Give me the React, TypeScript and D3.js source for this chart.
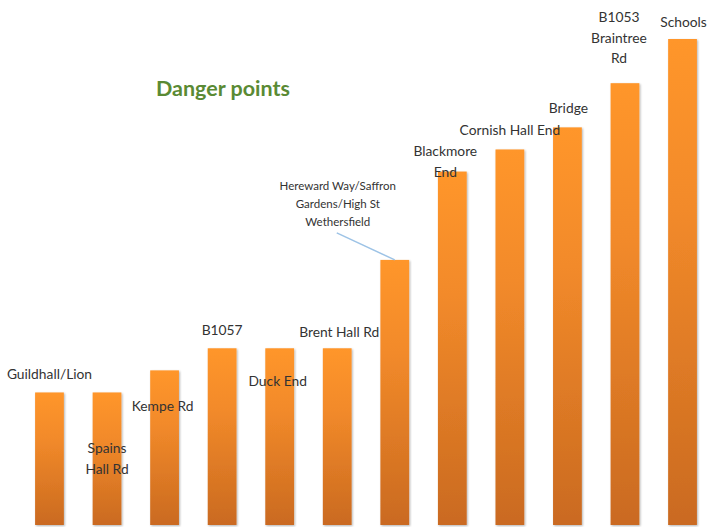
import React from "react";
import * as d3 from "d3";

const categories = [
  "Guildhall/Lion",
  "Spains Hall Rd",
  "Kempe Rd",
  "B1057",
  "Duck End",
  "Brent Hall Rd",
  "Hereward Way/Saffron Gardens/High St Wethersfield",
  "Blackmore End",
  "Cornish Hall End",
  "Bridge",
  "B1053 Braintree Rd",
  "Schools",
];
const values = [3, 3, 3.5, 4, 4, 4, 6, 8, 8.5, 9, 10, 11];
const labelLines = [
  ["Guildhall/Lion"],
  ["Spains", "Hall Rd"],
  ["Kempe Rd"],
  ["B1057"],
  ["Duck End"],
  ["Brent Hall Rd"],
  ["Hereward Way/Saffron", "Gardens/High St", "Wethersfield"],
  ["Blackmore", "End"],
  ["Cornish Hall End"],
  ["Bridge"],
  ["B1053", "Braintree", "Rd"],
  ["Schools"],
];
const labelOffsets: [number, number][] = [
  [0, -18],
  [0, 56],
  [-2, 36],
  [0, -18],
  [-2, 33],
  [2, -16],
  [-57, -74],
  [-7, -20],
  [0, -19],
  [1, -19],
  [-6, -66],
  [1, -17],
];

const W = 707;
const H = 527;

export default function App() {
  const x = d3
    .scaleBand<string>()
    .domain(categories)
    .range([20.7, 711.3])
    .paddingInner(0.5)
    .paddingOuter(0.25);
  const y = d3.scaleLinear().domain([0, 11]).range([525, 39]);
  const bw = x.bandwidth();

  return (
    <svg
      width={W}
      height={H}
      style={{ position: "absolute", left: 0, top: 0, background: "#fff" }}
    >
      <defs>
        <linearGradient id="barGrad" x1="0" y1="0" x2="0" y2="1">
          <stop offset="0" stopColor="#FF962B" />
          <stop offset="0.35" stopColor="#F28A2A" />
          <stop offset="1" stopColor="#CA6A20" />
        </linearGradient>
        <filter id="shadow" x="-30%" y="-5%" width="160%" height="110%">
          <feGaussianBlur in="SourceAlpha" stdDeviation="1.2" />
          <feOffset dx="0.5" dy="0.5" result="b" />
          <feComponentTransfer>
            <feFuncA type="linear" slope="0.3" />
          </feComponentTransfer>
          <feMerge>
            <feMergeNode />
            <feMergeNode in="SourceGraphic" />
          </feMerge>
        </filter>
      </defs>
      {categories.map((c, i) => (
        <rect
          key={c}
          x={x(c)}
          y={y(values[i])}
          width={bw}
          height={y(0) - y(values[i])}
          fill="url(#barGrad)"
          filter="url(#shadow)"
        />
      ))}
      <line
        x1={x(categories[6])! + bw / 2 - 58}
        y1={y(values[6]) - 27}
        x2={x(categories[6])! + bw / 2}
        y2={y(values[6])}
        stroke="#9DC3E6"
        strokeWidth={1.5}
      />
      {categories.map((c, i) => {
        const cx = x(c)! + bw / 2 + labelOffsets[i][0];
        const ty = y(values[i]) + labelOffsets[i][1];
        const small = i === 6;
        const lh = small ? 18 : 20.5;
        return (
          <text
            key={"l" + c}
            x={cx}
            y={ty}
            textAnchor="middle"
            fontFamily="Lato, 'Open Sans', sans-serif"
            fontSize={small ? 11.5 : 13.8}
            fill="#333"
          >
            {labelLines[i].map((ln, j) => (
              <tspan key={j} x={cx} y={ty + j * lh} dy="0.35em">
                {ln}
              </tspan>
            ))}
          </text>
        );
      })}
      <text
        x={223}
        y={88}
        textAnchor="middle"
        dy="0.35em"
        fontFamily="Lato, 'Open Sans', sans-serif"
        fontWeight="bold"
        fontSize={21.5}
        fill="#5A8A34"
      >
        Danger points
      </text>
    </svg>
  );
}
